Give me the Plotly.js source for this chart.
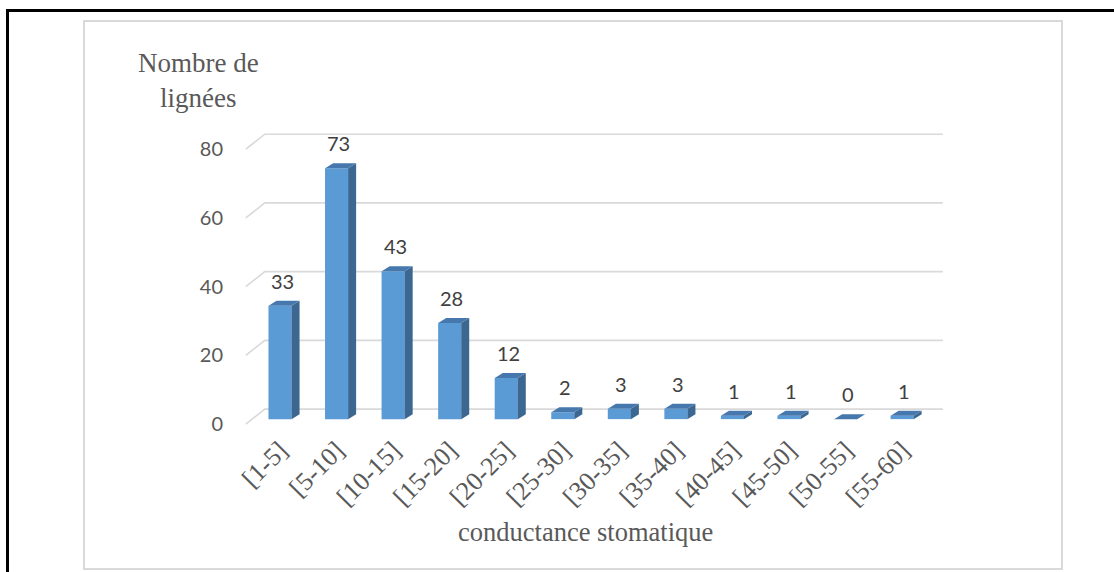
<!DOCTYPE html>
<html>
<head>
<meta charset="utf-8">
<script src="https://cdn.plot.ly/plotly-3.0.1.min.js"></script>
<style>
  html, body { margin: 0; padding: 0; background: #ffffff; }
  #wrap { position: relative; width: 1114px; height: 572px; overflow: hidden; }
  #outer { position: absolute; left: 6px; top: 9px; width: 1120px; height: 580px; border: 3px solid #000; box-sizing: border-box; }
  #inner { position: absolute; left: 83px; top: 20px; width: 980px; height: 550px; border: 2px solid #d9d9d9; box-sizing: border-box; }
  #chart { position: absolute; left: 0; top: 0; width: 1114px; height: 572px; }
</style>
</head>
<body>
<div id="wrap">
  <div id="outer"></div>
  <div id="inner"></div>
  <div id="chart"></div>
</div>
<script>
// ---- data ----
const categories = ["[1-5]", "[5-10]", "[10-15]", "[15-20]", "[20-25]", "[25-30]", "[30-35]", "[35-40]", "[40-45]", "[45-50]", "[50-55]", "[55-60]"];
const counts = [33, 73, 43, 28, 12, 2, 3, 3, 1, 1, 0, 1];
const yTicks = [0, 20, 40, 60, 80];
const yTitle = "Nombre de<br>lignées";
const xTitle = "conductance stomatique";

// ---- style ----
const frontColor = "#5b9bd5";
const sideColor = "#3c6791";
const topColor = "#4677ad";
const gridColor = "#d9d9d9";
const depthPx = 8;       // horizontal depth of 3D bars in px
const depthUnits = 1.45; // vertical rise of 3D bars in data units
const halfW = 11.5;      // half width of front face in px

const idx = categories.map((_, i) => i);

const shapes = [];
// back-wall gridlines with slanted floor part
yTicks.forEach(v => {
  shapes.push({
    type: "path", layer: "below",
    xref: "x", xsizemode: "pixel", xanchor: -0.5,
    yref: "y", ysizemode: "pixel", yanchor: v,
    path: "M -6,-5 L 13,10 L 691,10",
    line: { color: gridColor, width: 1.6 }
  });
});
// side & top faces of bars
counts.forEach((v, i) => {
  shapes.push({
    type: "path", layer: "above",
    xref: "x", xsizemode: "pixel", xanchor: i,
    yref: "y",
    path: `M ${halfW},0 L ${halfW + depthPx},${depthUnits} L ${halfW + depthPx},${v + depthUnits} L ${halfW},${v} Z`,
    fillcolor: sideColor, line: { width: 0 }
  });
  shapes.push({
    type: "path", layer: "above",
    xref: "x", xsizemode: "pixel", xanchor: i,
    yref: "y",
    path: `M ${-halfW},${v} L ${-halfW + depthPx},${v + depthUnits} L ${halfW + depthPx},${v + depthUnits} L ${halfW},${v} Z`,
    fillcolor: topColor, line: { width: 0 }
  });
});

const annotations = counts.map((v, i) => ({
  x: i, y: v, xref: "x", yref: "y",
  text: String(v), showarrow: false,
  xshift: 2, yshift: 25, yanchor: "middle",
  font: { family: "Lato, 'Open Sans', sans-serif", size: 20, color: "#404040" }
}));
annotations.push({
  xref: "paper", yref: "paper", x: 0, y: 1,
  xshift: -47, yshift: 47, xanchor: "center", yanchor: "middle",
  text: yTitle, showarrow: false, align: "center",
  font: { family: "'Liberation Serif', 'Times New Roman', serif", size: 27, color: "#595959" }
});
annotations.push({
  xref: "x", yref: "paper", x: 5.5, y: 0,
  xshift: -6, yshift: -106, xanchor: "center", yanchor: "middle",
  text: xTitle, showarrow: false,
  font: { family: "'Liberation Serif', 'Times New Roman', serif", size: 26.5, color: "#595959" }
});

const trace = {
  type: "bar",
  x: idx, y: counts,
  width: 0.41,
  marker: { color: frontColor, line: { width: 0 } },
  hoverinfo: "skip"
};

const layout = {
  width: 1114, height: 572,
  margin: { l: 245.47, r: 170.19, t: 127, b: 146.13 },
  paper_bgcolor: "rgba(0,0,0,0)",
  plot_bgcolor: "rgba(0,0,0,0)",
  showlegend: false,
  xaxis: {
    range: [-0.62, 11.74],
    tickmode: "array", tickvals: idx, ticktext: categories,
    tickangle: -45, showgrid: false, zeroline: false, showline: false,
    ticks: "", ticklabelstandoff: 3,
    tickfont: { family: "'Liberation Serif', 'Times New Roman', serif", size: 26, color: "#595959" }
  },
  yaxis: {
    range: [-2, 85],
    tickmode: "array", tickvals: yTicks,
    showgrid: false, zeroline: false, showline: false, ticks: "",
    ticklabelstandoff: 21, ticklabelshift: 5,
    tickfont: { family: "Lato, 'Open Sans', sans-serif", size: 20, color: "#595959" }
  },
  shapes: shapes,
  annotations: annotations
};

Plotly.newPlot("chart", [trace], layout, { staticPlot: true, displayModeBar: false });
</script>
</body>
</html>
